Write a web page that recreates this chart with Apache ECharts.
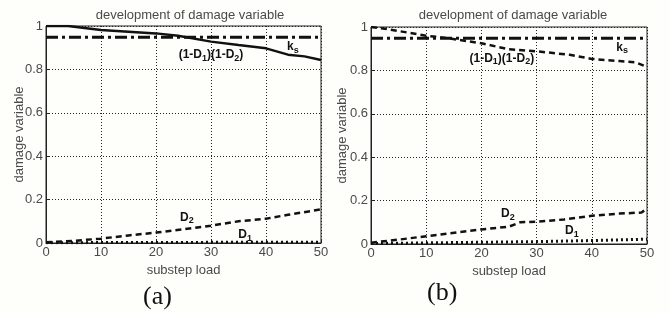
<!DOCTYPE html>
<html>
<head>
<meta charset="utf-8">
<script src="https://cdn.jsdelivr.net/npm/echarts@6/dist/echarts.min.js"></script>
<style>
  html, body { margin: 0; padding: 0; background: #fefefa; }
  #chart { width: 670px; height: 313px; }
</style>
</head>
<body>
<div id="chart"></div>
<script>
// panel (a)
var prodA = [[0, 1.0], [4, 1.0], [10, 0.982], [20, 0.966], [24, 0.955], [30, 0.928], [35, 0.912], [40, 0.897], [44, 0.868], [47, 0.86], [50, 0.843]];
var d2A = [[0, 0.003], [5, 0.01], [10, 0.02], [15, 0.035], [20, 0.048], [25, 0.063], [30, 0.08], [35, 0.1], [40, 0.112], [44, 0.13], [50, 0.155]];
var d1A = [[0, 0.001], [10, 0.002], [20, 0.002], [30, 0.003], [40, 0.003], [50, 0.004]];
// panel (b)
var prodB = [[0, 1.0], [3, 0.99], [10, 0.96], [14, 0.948], [20, 0.925], [25, 0.897], [30, 0.888], [36, 0.872], [40, 0.853], [45, 0.843], [48, 0.837], [50, 0.816]];
var d2B = [[0, 0.006], [5, 0.02], [10, 0.036], [20, 0.067], [25, 0.08], [27, 0.1], [30, 0.103], [35, 0.113], [40, 0.13], [45, 0.14], [49, 0.145], [50, 0.163]];
var d1B = [[0, 0.002], [10, 0.005], [20, 0.008], [30, 0.011], [40, 0.016], [50, 0.022]];
var ksValue = 0.948;

// label anchors (data coordinates)
var labelsA = [
    { coord: [30, 0.866], text: '{b|(1-D}{s|1}{b|)(1-D}{s|2}{b|)}' },
    { coord: [44.9, 0.903], text: '{b|k}{s|s}' },
    { coord: [25.6, 0.118], text: '{b|D}{s|2}' },
    { coord: [36.2, 0.037], text: '{b|D}{s|1}' }
];
var labelsB = [
    { coord: [23.7, 0.856], text: '{b|(1-D}{s|1}{b|)(1-D}{s|2}{b|)}' },
    { coord: [45.5, 0.906], text: '{b|k}{s|s}' },
    { coord: [24.8, 0.14], text: '{b|D}{s|2}' },
    { coord: [36.4, 0.062], text: '{b|D}{s|1}' }
];

var font = 'Liberation Sans, Arial, sans-serif';
var grey = '#4a4a4a';
var richSub = {
    b: { fontFamily: font, fontWeight: 'bold', fontSize: 12, color: '#111', lineHeight: 16 },
    s: { fontFamily: font, fontWeight: 'bold', fontSize: 9, color: '#111', lineHeight: 16, verticalAlign: 'bottom', padding: [7, 0, 0, 0] }
};

function xAxisFor(idx) {
    return {
        gridIndex: idx,
        type: 'value',
        min: 0, max: 50, interval: 10,
        name: 'substep load',
        nameLocation: 'middle',
        nameGap: 21,
        nameMoveOverlap: false,
        nameTextStyle: { fontFamily: font, fontSize: 13, color: grey },
        axisLine: { lineStyle: { color: '#222', width: 1 } },
        axisTick: { inside: true, length: 3, lineStyle: { color: '#222' } },
        axisLabel: { fontFamily: font, fontSize: 13, color: grey, margin: 3 },
        splitLine: { show: true, lineStyle: { color: '#222', type: [1, 2], width: 1 } }
    };
}
function yAxisFor(idx, gap) {
    return {
        gridIndex: idx,
        type: 'value',
        min: 0, max: 1, interval: 0.2,
        name: 'damage variable',
        nameLocation: 'middle',
        nameGap: gap,
        nameMoveOverlap: false,
        nameTextStyle: { fontFamily: font, fontSize: 13, color: grey },
        axisLine: { lineStyle: { color: '#222', width: 1 } },
        axisTick: { inside: true, length: 3, lineStyle: { color: '#222' } },
        axisLabel: { fontFamily: font, fontSize: 13, color: grey, margin: 3 },
        splitLine: { show: true, lineStyle: { color: '#222', type: [1, 2], width: 1 } }
    };
}
function labelPoints(list) {
    return {
        symbol: 'circle',
        symbolSize: 0,
        silent: true,
        label: { show: true, position: 'inside', rich: richSub, formatter: function (p) { return p.data.text; } },
        data: list.map(function (l) { return { coord: l.coord, text: l.text }; })
    };
}
function lineSeries(idx, data, type, width, extra) {
    var s = {
        type: 'line',
        xAxisIndex: idx,
        yAxisIndex: idx,
        data: data,
        showSymbol: false,
        silent: true,
        animation: false,
        lineStyle: { color: '#111', width: width, type: type }
    };
    if (extra) s.markPoint = extra;
    return s;
}
function ksSeries(idx) {
    return lineSeries(idx, [[0, ksValue], [50, ksValue]], [12, 4, 3, 4], 3);
}

var option = {
    backgroundColor: '#fefefa',
    animation: false,
    title: [
        { text: 'development of damage variable', left: 185, top: 4, textAlign: 'center',
          textStyle: { fontFamily: font, fontSize: 13, fontWeight: 'normal', color: grey } },
        { text: 'development of damage variable', left: 508, top: 4, textAlign: 'center',
          textStyle: { fontFamily: font, fontSize: 13, fontWeight: 'normal', color: grey } }
    ],
    grid: [
        { left: 46, top: 26, width: 275, height: 217, show: true, borderColor: '#222', borderWidth: 1, backgroundColor: 'transparent' },
        { left: 371, top: 27, width: 276, height: 217, show: true, borderColor: '#222', borderWidth: 1, backgroundColor: 'transparent' }
    ],
    xAxis: [xAxisFor(0), xAxisFor(1)],
    yAxis: [yAxisFor(0, 20), yAxisFor(1, 22)],
    series: [
        lineSeries(0, prodA, 'solid', 2.5, labelPoints(labelsA)),
        ksSeries(0),
        lineSeries(0, d2A, [6, 4], 2.5),
        lineSeries(0, d1A, [2, 3], 3),
        lineSeries(1, prodB, [6, 4], 2.5, labelPoints(labelsB)),
        ksSeries(1),
        lineSeries(1, d2B, [6, 4], 2.5),
        lineSeries(1, d1B, [2, 3], 3)
    ],
    graphic: [
        { type: 'text', left: 143, top: 284, style: { text: '(a)', font: '26px "Liberation Serif", "Times New Roman", serif', fill: '#111' } },
        { type: 'text', left: 427, top: 280, style: { text: '(b)', font: '26px "Liberation Serif", "Times New Roman", serif', fill: '#111' } }
    ]
};

var myChart = echarts.init(document.getElementById('chart'));
myChart.setOption(option);
</script>
</body>
</html>
